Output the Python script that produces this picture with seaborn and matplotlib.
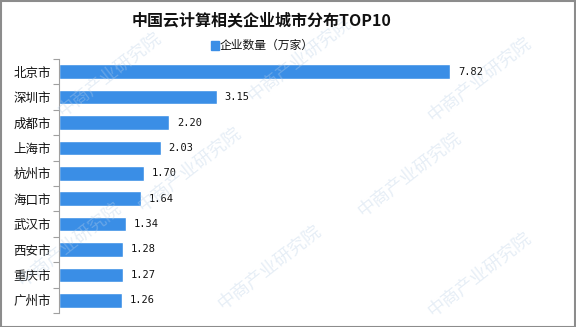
import matplotlib
matplotlib.use("Agg")
import matplotlib.pyplot as plt
import seaborn as sns
import pandas as pd
from matplotlib.patches import Rectangle

cities = ["北京市", "深圳市", "成都市", "上海市", "杭州市", "海口市", "武汉市", "西安市", "重庆市", "广州市"]
values = [7.82, 3.15, 2.20, 2.03, 1.70, 1.64, 1.34, 1.28, 1.27, 1.26]
title = "中国云计算相关企业城市分布TOP10"
series_name = "企业数量（万家）"
watermark = "中商产业研究院"

sns.set_theme(style="white")
plt.rcParams['font.family'] = ['Noto Sans CJK SC', 'DejaVu Sans']

df = pd.DataFrame({"city": cities, "value": values})
bar_color = "#3A8EE6"

fig = plt.figure(figsize=(5.76, 3.27), dpi=100)
W, H = 576, 327

# watermark (behind everything)
wm_pos = [(110, 75), (300, 60), (480, 80), (190, 170), (410, 175),
          (270, 268), (480, 275), (70, 245)]
for (x, y) in wm_pos:
    fig.text(x / W, 1 - y / H, watermark, ha="center", va="center", fontsize=13,
             rotation=38, color="#B9CFE6", alpha=0.35, zorder=0)

ax = fig.add_axes([59 / W, 1 - 313 / H, 500 / W, 254 / H])
ax.patch.set_alpha(0)

sns.barplot(data=df, x="value", y="city", orient="h", color=bar_color,
            width=0.57, ax=ax, saturation=1)

ax.set_xlim(0, 10)
ax.set_ylim(len(cities) - 0.5, -0.5)
ax.set_xlabel("")
ax.set_ylabel("")
ax.set_xticks([])
for s in ["top", "right", "bottom"]:
    ax.spines[s].set_visible(False)
ax.spines["left"].set_color("#A0A0A0")
ax.spines["left"].set_linewidth(0.8)

# ticks at category boundaries
ax.set_yticks([i - 0.5 for i in range(len(cities) + 1)], minor=False)
ax.set_yticklabels([])
ax.set_yticks(range(len(cities)), minor=True)
ax.set_yticklabels(cities, minor=True, fontsize=9, color="#111111")
ax.tick_params(axis="y", which="major", length=4, color="#A0A0A0", width=0.8, left=True)
ax.tick_params(axis="y", which="minor", length=0, pad=6, left=True)

for i, v in enumerate(values):
    ax.text(v + 0.16, i, f"{v:.2f}", va="center", ha="left", fontsize=7.5,
            family="DejaVu Sans Mono", color="#111111")

# title and legend
fig.text(262 / W, 1 - 20 / H, title, ha="center", va="center", fontsize=11.5,
         fontweight="bold", color="#111111")
fig.patches.append(Rectangle((211 / W, 1 - 50 / H), 8 / W, 9 / H,
                             transform=fig.transFigure, color=bar_color, figure=fig))
fig.text(220 / W, 1 - 45 / H, series_name, ha="left", va="center", fontsize=8.5, color="#111111")

# border
fig.patches.append(Rectangle((0.5 / W, 0.5 / H), 1 - 1.5 / W, 1 - 1.5 / H,
                             transform=fig.transFigure, fill=False,
                             edgecolor="#8C8C8C", linewidth=1.5, figure=fig))

fig.savefig("out.png", dpi=100)
